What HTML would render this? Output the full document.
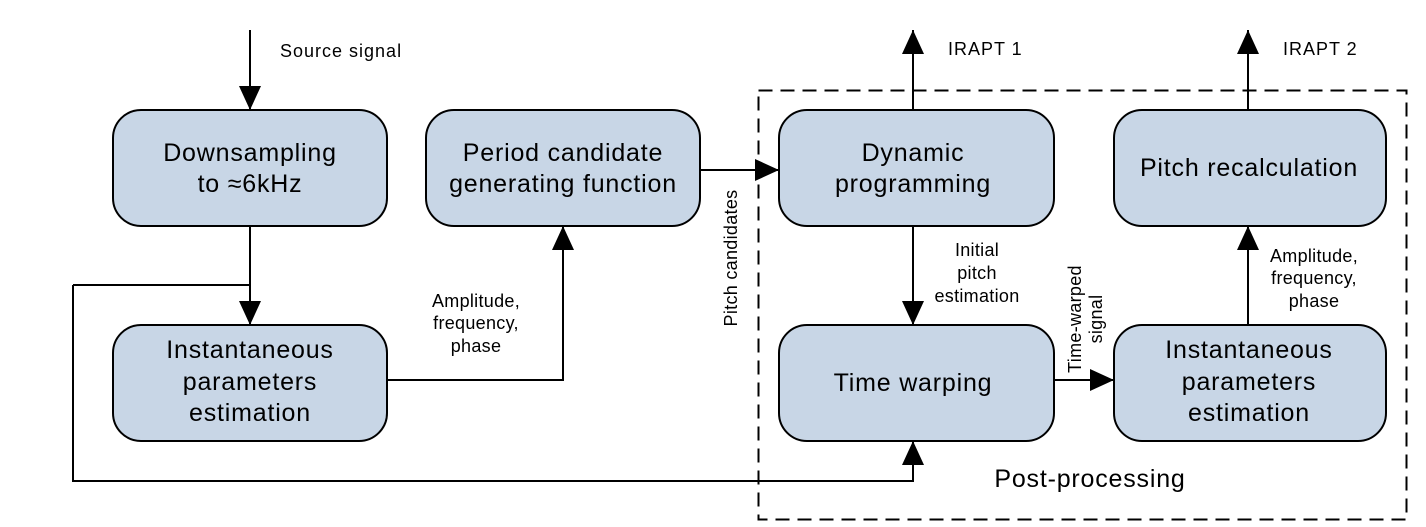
<!DOCTYPE html>
<html><head><meta charset="utf-8"><style>
html,body{margin:0;padding:0;background:#fff;}
svg{display:block;font-family:"Liberation Sans",Arial,sans-serif;}
</style></head><body>
<svg width="1426" height="527" viewBox="0 0 1426 527" xmlns="http://www.w3.org/2000/svg">
<defs>
<marker id="b" markerWidth="30" markerHeight="30" refX="24" refY="11" orient="auto" markerUnits="userSpaceOnUse">
<path d="M0,0 L24,11 L0,22 z" fill="#000"/></marker>
</defs>
<rect x="758.5" y="90.5" width="648" height="429" fill="none" stroke="#000" stroke-width="2" stroke-dasharray="14,8"/>
<g fill="#c8d6e6" stroke="#000" stroke-width="2">
<rect x="113" y="110" width="274" height="116" rx="28"/>
<rect x="426" y="110" width="274" height="116" rx="28"/>
<rect x="779" y="110" width="275" height="116" rx="28"/>
<rect x="1114" y="110" width="272" height="116" rx="28"/>
<rect x="113" y="325" width="274" height="116" rx="28"/>
<rect x="779" y="325" width="275" height="116" rx="28"/>
<rect x="1114" y="325" width="272" height="116" rx="28"/>
</g>
<g stroke="#000" stroke-width="2" fill="none" marker-end="url(#b)">
<path d="M250,30 V110"/>
<path d="M250,226 V325"/>
<path d="M387,380 H563 V226"/>
<path d="M700,170 H779"/>
<path d="M913,110 V30"/>
<path d="M913,226 V325"/>
<path d="M1054,380 H1114"/>
<path d="M1248,325 V226"/>
<path d="M1248,110 V30"/>
<path d="M73,285 H250 M73,285 V481 H913 V441"/>
</g>
<g font-size="25" letter-spacing="0.8" text-anchor="middle" fill="#000">
<text x="250" y="161">Downsampling</text><text x="250" y="192">to ≈6kHz</text>
<text x="563" y="161">Period candidate</text><text x="563" y="192">generating function</text>
<text x="913" y="161">Dynamic</text><text x="913" y="192">programming</text>
<text x="1249" y="176">Pitch recalculation</text>
<text x="250" y="358">Instantaneous</text><text x="250" y="390">parameters</text><text x="250" y="421">estimation</text>
<text x="913" y="391">Time warping</text>
<text x="1249" y="358">Instantaneous</text><text x="1249" y="390">parameters</text><text x="1249" y="421">estimation</text>
<text x="1090" y="487">Post-processing</text>
</g>
<g font-size="18" letter-spacing="0.3" fill="#000">
<text x="280" y="57" letter-spacing="1">Source signal</text>
<text x="948" y="55" letter-spacing="1">IRAPT 1</text>
<text x="1283" y="55" letter-spacing="1">IRAPT 2</text>
<g text-anchor="middle">
<text x="476" y="307">Amplitude,</text><text x="476" y="329">frequency,</text><text x="476" y="352">phase</text>
<text x="977" y="256">Initial</text><text x="977" y="279">pitch</text><text x="977" y="302">estimation</text>
<text x="1314" y="262">Amplitude,</text><text x="1314" y="284">frequency,</text><text x="1314" y="307">phase</text>
</g>
<text transform="translate(737,258) rotate(-90)" text-anchor="middle">Pitch candidates</text>
<text transform="translate(1081,319) rotate(-90)" text-anchor="middle"><tspan x="0" y="0">Time-warped</tspan><tspan x="0" y="21">signal</tspan></text>
</g>
</svg>
</body></html>
